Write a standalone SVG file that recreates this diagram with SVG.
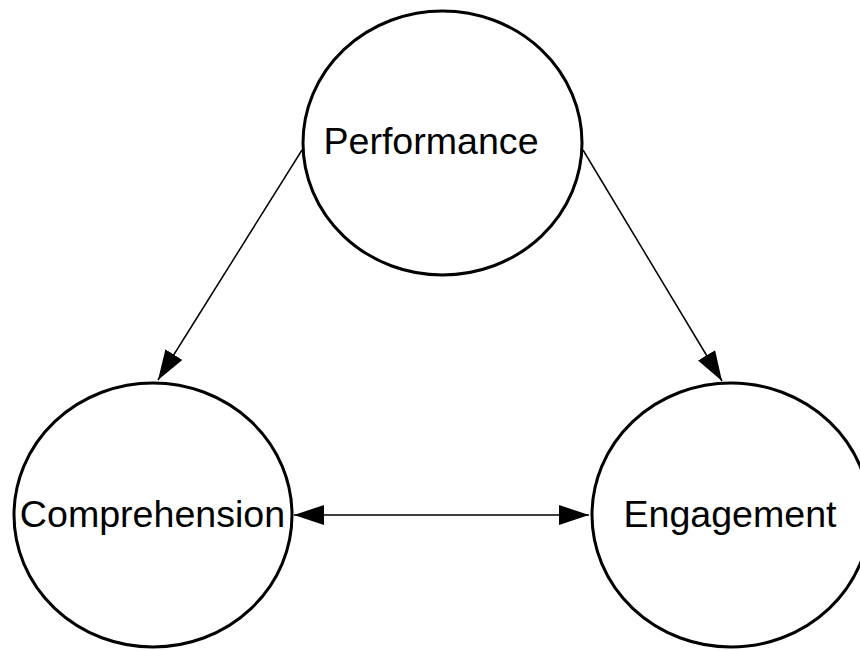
<svg xmlns="http://www.w3.org/2000/svg" width="860" height="650" viewBox="0 0 860 650">
<style>
.node{fill:#fff;stroke:#000;stroke-width:3}
.lbl{font-family:"Liberation Sans",Arial,sans-serif;font-size:37.6px;fill:#000;text-anchor:middle}
.edge{stroke:#000;stroke-width:1.5;fill:none}
</style>
<defs>
<marker id="ah" markerUnits="userSpaceOnUse" markerWidth="31" markerHeight="21" refX="30" refY="10" orient="auto-start-reverse" viewBox="0 0 31 21">
<path d="M0,0 L30,10 L0,20 Z" fill="#000"/>
</marker>
</defs>
<rect width="860" height="650" fill="#fff"/>
<g id="connectors">
<line class="edge" x1="302" y1="150" x2="158" y2="380" marker-end="url(#ah)"/>
<line class="edge" x1="583" y1="150" x2="722" y2="381" marker-end="url(#ah)"/>
<line class="edge" x1="294" y1="515" x2="589" y2="515" marker-start="url(#ah)" marker-end="url(#ah)"/>
</g>
<g id="performance">
<ellipse class="node" cx="442.5" cy="143" rx="139.5" ry="132"/>
<text class="lbl" x="431" y="154">Performance</text>
</g>
<g id="comprehension">
<ellipse class="node" cx="153" cy="515" rx="139" ry="132"/>
<text class="lbl" x="152.5" y="527">Comprehension</text>
</g>
<g id="engagement">
<ellipse class="node" cx="731" cy="515" rx="139" ry="132"/>
<text class="lbl" x="730" y="527">Engagement</text>
</g>
</svg>
